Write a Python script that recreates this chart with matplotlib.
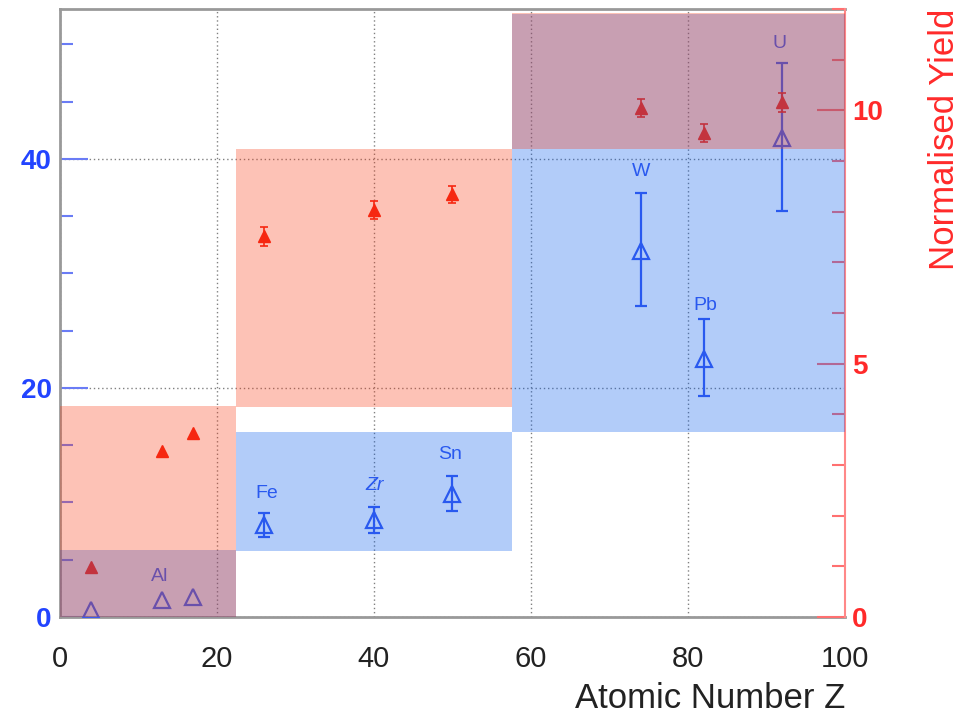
import matplotlib
matplotlib.use("Agg")
import matplotlib.pyplot as plt
from matplotlib.patches import Rectangle
from matplotlib.ticker import MultipleLocator
import numpy as np

plt.rcParams['font.family'] = ['Liberation Sans', 'DejaVu Sans']

# ---------------- data ----------------
Z = [4, 13, 17, 26, 40, 50, 74, 82, 92]
names = ['', 'Al', '', 'Fe', 'Zr', 'Sn', 'W', 'Pb', 'U']
label_x = [4, 12.7, 17, 26.3, 40.1, 49.7, 74.0, 82.2, 91.7]
label_y = [0, 3.5, 0, 10.8, 11.5, 14.2, 38.9, 27.2, 50.1]
label_style = ['normal', 'normal', 'normal', 'normal', 'italic', 'normal', 'normal', 'normal', 'normal']

# left axis (blue open triangles)
blue_val = [0.6, 1.5, 1.75, 8.0, 8.5, 10.7, 32.0, 22.5, 41.8]
blue_err_lo = [0, 0, 0, 1.0, 1.2, 1.4, 4.8, 3.2, 6.3]
blue_err_hi = [0, 0, 0, 1.1, 1.1, 1.6, 5.0, 3.5, 6.6]

# right axis (red filled triangles) - normalised yield
red_val = [0.99, 3.28, 3.63, 7.51, 8.04, 8.34, 10.04, 9.56, 10.16]
red_err = [0, 0, 0, 0.18, 0.18, 0.16, 0.18, 0.18, 0.19]

# shaded bands
band_x0 = [0, 22.4, 57.6]
band_x1 = [22.4, 57.6, 100]
red_lo = [0, 4.15, 9.23]      # right-axis units
red_hi = [4.17, 9.23, 11.92]
blue_lo = [0, 5.8, 16.2]      # left-axis units
blue_hi = [5.85, 16.2, 52.7]

xticks = [0, 20, 40, 60, 80, 100]
left_ticks = [0, 20, 40]
right_ticks = [0, 5, 10]

BLUE = '#3c5af0'
RED = '#f51e0f'

fig = plt.figure(figsize=(9.61, 7.18), dpi=100)
ax = fig.add_axes([60 / 961, 1 - 617 / 718, 785 / 961, 608 / 718])
ax2 = ax.twinx()

# grid
ax.set_xticks(xticks)
ax.set_yticks(left_ticks)
ax.grid(True, which='major', linestyle=(0, (1, 2)), color='#808080', linewidth=1.0)
ax.set_axisbelow(True)

# blue points
ax.plot(Z, blue_val, linestyle='none', marker='^', ms=12, mfc='none', mec=BLUE, mew=1.6, zorder=3)
m = np.array(blue_err_hi) > 0
ax.errorbar(np.array(Z)[m], np.array(blue_val)[m],
            yerr=[np.array(blue_err_lo)[m], np.array(blue_err_hi)[m]],
            fmt='none', ecolor=BLUE, elinewidth=1.6, capsize=4, capthick=1.6, zorder=3)
for x, y, t, st in zip(label_x, label_y, names, label_style):
    if t:
        ax.text(x, y, t, ha='center', va='center', color=BLUE, fontsize=14, style=st, zorder=3)

# red points
ax2.plot(Z, red_val, linestyle='none', marker='^', ms=8.5, color=RED, zorder=2)
mr = np.array(red_err) > 0
ax2.errorbar(np.array(Z)[mr], np.array(red_val)[mr], yerr=np.array(red_err)[mr],
             fmt='none', ecolor=RED, elinewidth=1.2, capsize=3, capthick=1.2, zorder=2)

# bands: blue first (left units), red on top (right units)
for x0, x1, lo, hi in zip(band_x0, band_x1, blue_lo, blue_hi):
    r = Rectangle((x0, lo), x1 - x0, hi - lo, transform=ax.transData,
                  facecolor=(0 / 255, 88 / 255, 238 / 255), alpha=0.30, edgecolor='none', zorder=3)
    ax2.add_patch(r)
for x0, x1, lo, hi in zip(band_x0, band_x1, red_lo, red_hi):
    r = Rectangle((x0, lo), x1 - x0, hi - lo,
                  facecolor=(250 / 255, 60 / 255, 20 / 255), alpha=0.31, edgecolor='none', zorder=4)
    ax2.add_patch(r)

ax.set_xlim(0, 100)
ax.set_ylim(0, 53.1)
ax2.set_ylim(0, 12.0)

# left axis ticks
ax.yaxis.set_minor_locator(MultipleLocator(5))
ax.tick_params(axis='y', which='major', direction='in', length=20, width=1.5,
               color='#6a7cf5', labelcolor='#2244ff', labelsize=20, pad=6, right=False)
ax.tick_params(axis='y', which='minor', direction='in', length=9.5, width=1.5,
               color='#6a7cf5', right=False)
for lbl in ax.get_yticklabels():
    lbl.set_fontweight('bold')
ax.tick_params(axis='x', length=0, labelsize=21, pad=20, labelcolor='#222222', top=False)

# right axis ticks
ax2.set_yticks(right_ticks)
ax2.yaxis.set_minor_locator(MultipleLocator(1))
ax2.tick_params(axis='y', which='major', direction='in', length=20, width=1.5,
                color='#ff7070', labelcolor='#ff2a2a', labelsize=20, pad=5)
ax2.tick_params(axis='y', which='minor', direction='in', length=9.5, width=1.5, color='#ff7070')
for lbl in ax2.get_yticklabels():
    lbl.set_fontweight('bold')

# spines
for s in ['left', 'top', 'bottom']:
    ax.spines[s].set_color('#999999')
    ax.spines[s].set_linewidth(2)
    ax2.spines[s].set_visible(False)
ax.spines['right'].set_visible(False)
ax2.spines['right'].set_color('#ff8888')
ax2.spines['right'].set_linewidth(1.5)

# labels
ax.set_xlabel('Atomic Number Z', loc='right', fontsize=25, color='#222222', labelpad=7)
ax2.set_ylabel('Normalised Yield', loc='top', fontsize=25, color='#ff2a2a')
ax2.yaxis.set_label_coords((928 - 60) / 785, 1.0)

fig.savefig('out.png', dpi=100)
